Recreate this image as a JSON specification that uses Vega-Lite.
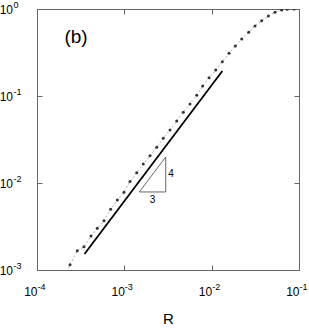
{
  "$schema": "https://vega.github.io/schema/vega-lite/v6.json",
  "autosize": "none",
  "width": 262,
  "height": 261,
  "padding": {"left": 37, "top": 9, "right": 10, "bottom": 59},
  "background": "white",
  "config": {
    "view": {"stroke": null},
    "font": "Liberation Sans",
    "axis": {
      "domainColor": "#666",
      "tickColor": "#666",
      "tickSize": -5,
      "grid": false,
      "labelFont": "Liberation Sans",
      "labelFontSize": 12,
      "labelColor": "#000",
      "labelOverlap": false,
      "labelBound": false,
      "labelFlush": false,
      "titleFont": "Liberation Sans",
      "titleFontWeight": "normal",
      "titleColor": "#000"
    }
  },
  "datasets": {
    "curve": [
      {"R": 0.000200, "P": 0.00079},
      {"R": 0.0002388, "P": 0.001151},
      {"R": 0.0002891, "P": 0.001667},
      {"R": 0.0003451, "P": 0.001854},
      {"R": 0.0004150, "P": 0.002460},
      {"R": 0.0004898, "P": 0.003013},
      {"R": 0.0005848, "P": 0.003690},
      {"R": 0.0006982, "P": 0.004989},
      {"R": 0.0008318, "P": 0.006383},
      {"R": 0.0009908, "P": 0.007816},
      {"R": 0.001161, "P": 0.01040},
      {"R": 0.001387, "P": 0.01312},
      {"R": 0.001648, "P": 0.01652},
      {"R": 0.001968, "P": 0.02061},
      {"R": 0.002350, "P": 0.02570},
      {"R": 0.002793, "P": 0.03266},
      {"R": 0.003334, "P": 0.04064},
      {"R": 0.003981, "P": 0.05164},
      {"R": 0.004732, "P": 0.06501},
      {"R": 0.005649, "P": 0.08091},
      {"R": 0.006745, "P": 0.1019},
      {"R": 0.007889, "P": 0.1303},
      {"R": 0.009333, "P": 0.1622},
      {"R": 0.01112, "P": 0.1991},
      {"R": 0.01324, "P": 0.2477},
      {"R": 0.01581, "P": 0.3097},
      {"R": 0.01866, "P": 0.3758},
      {"R": 0.02208, "P": 0.4519},
      {"R": 0.02655, "P": 0.5395},
      {"R": 0.03133, "P": 0.6383},
      {"R": 0.03741, "P": 0.7345},
      {"R": 0.04457, "P": 0.8318},
      {"R": 0.05309, "P": 0.9162},
      {"R": 0.06339, "P": 0.9750},
      {"R": 0.07345, "P": 0.9954},
      {"R": 0.08770, "P": 1.0}
    ],
    "slope": [
      {"R": 0.000350, "P": 0.00153},
      {"R": 0.01325, "P": 0.1936}
    ],
    "triangle": [
      {"R": 0.001483, "P": 0.00789, "k": 0},
      {"R": 0.002979, "P": 0.00789, "k": 1},
      {"R": 0.002979, "P": 0.0199, "k": 2},
      {"R": 0.001483, "P": 0.00789, "k": 3}
    ],
    "labels": [
      {"R": 0.00028, "P": 0.477, "t": "(b)", "s": "big"},
      {"R": 0.00342, "P": 0.01268, "t": "4", "s": "small"},
      {"R": 0.00210, "P": 0.00646, "t": "3", "s": "small"}
    ]
  },
  "layer": [
    {
      "data": {"name": "slope"},
      "mark": {"type": "line", "color": "#000", "strokeWidth": 1.8, "clip": true},
      "encoding": {
        "x": {"field": "R", "type": "quantitative",
              "scale": {"type": "log", "domain": [0.0001, 0.1], "nice": false},
              "axis": {"orient": "bottom", "values": [0.0001, 0.001, 0.01, 0.1], "labelPadding": 21, "labelAlign": "right", "labelBaseline": "top",
                       "title": "R", "titleFontSize": 15, "titlePadding": 14,
                       "labelExpr": "'10'"}},
        "y": {"field": "P", "type": "quantitative",
              "scale": {"type": "log", "domain": [0.001, 1], "nice": false},
              "axis": {"orient": "left", "values": [0.001, 0.01, 0.1, 1], "labelPadding": 29.5, "labelAlign": "right", "labelBaseline": "middle",
                       "title": null, "labelExpr": "'10'"}}
      }
    },
    {
      "data": {"name": "triangle"},
      "mark": {"type": "line", "color": "#555", "strokeWidth": 0.9, "clip": true},
      "encoding": {
        "order": {"field": "k", "type": "quantitative"},
        "x": {"field": "R", "type": "quantitative",
              "scale": {"type": "log", "domain": [0.0001, 0.1], "nice": false},
              "axis": {"orient": "top", "values": [0.0001, 0.001, 0.01, 0.1], "labels": false, "title": null}},
        "y": {"field": "P", "type": "quantitative",
              "scale": {"type": "log", "domain": [0.001, 1], "nice": false},
              "axis": {"orient": "right", "values": [0.001, 0.01, 0.1, 1], "labels": false, "title": null}}
      }
    },
    {
      "data": {"name": "curve"},
      "mark": {"type": "line", "color": "#999", "strokeWidth": 0.8, "strokeDash": [2, 2], "clip": true},
      "encoding": {
        "x": {"field": "R", "type": "quantitative", "scale": {"type": "log", "domain": [0.0001, 0.1], "nice": false},
              "axis": {"orient": "bottom", "values": [0.0001, 0.001, 0.01, 0.1], "domain": false, "tickColor": "transparent", "labelPadding": 17.5, "labelAlign": "left", "labelBaseline": "top", "labelFontSize": 9, "title": null,
                       "labelExpr": "datum.value > 0.05 ? '-1' : datum.value > 0.005 ? '-2' : datum.value > 0.0005 ? '-3' : '-4'"}},
        "y": {"field": "P", "type": "quantitative", "scale": {"type": "log", "domain": [0.001, 1], "nice": false},
              "axis": {"orient": "left", "values": [0.001, 0.01, 0.1, 1], "domain": false, "tickColor": "transparent", "labelPadding": 29, "labelAlign": "left", "labelBaseline": "bottom", "labelFontSize": 9, "title": null,
                       "labelExpr": "datum.value > 0.5 ? '0' : datum.value > 0.05 ? '-1' : datum.value > 0.005 ? '-2' : '-3'"}}
      }
    },
    {
      "data": {"name": "curve"},
      "mark": {"type": "point", "filled": true, "color": "#333", "size": 9, "opacity": 1, "clip": true},
      "encoding": {
        "x": {"field": "R", "type": "quantitative", "scale": {"type": "log", "domain": [0.0001, 0.1], "nice": false}, "axis": null},
        "y": {"field": "P", "type": "quantitative", "scale": {"type": "log", "domain": [0.001, 1], "nice": false}, "axis": null}
      }
    },
    {
      "data": {"name": "labels"},
      "mark": {"type": "text", "color": "#000", "font": "Liberation Sans"},
      "encoding": {
        "x": {"field": "R", "type": "quantitative", "scale": {"type": "log", "domain": [0.0001, 0.1], "nice": false}, "axis": null},
        "y": {"field": "P", "type": "quantitative", "scale": {"type": "log", "domain": [0.001, 1], "nice": false}, "axis": null},
        "text": {"field": "t"},
        "size": {"field": "s", "type": "nominal", "scale": {"domain": ["big", "small"], "range": [19, 10]}, "legend": null}
      }
    }
  ],
  "resolve": {"axis": {"x": "independent", "y": "independent"}}
}
